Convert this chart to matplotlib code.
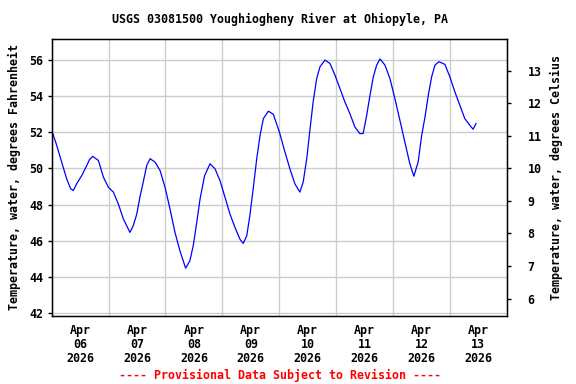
import matplotlib
matplotlib.use("Agg")
import matplotlib.pyplot as plt

# heures depuis le 6 avril 2026 00:00, température en °F
heures = [0, 2.1, 4.2, 6.3, 8.0, 9.1, 10.5, 12.7, 14.8, 15.9, 17.3, 19.7, 21.8, 23.9,
          26.0, 28.1, 30.2, 33.0, 34.4, 35.9, 37.2, 38.6, 40.1, 41.5, 43.6, 45.7,
          47.8, 49.9, 52.0, 54.1, 56.5, 58.3, 59.7, 61.2, 62.6, 64.5, 66.8, 68.9,
          71.0, 73.1, 75.2, 77.3, 79.4, 80.8, 82.3, 83.6, 85.0, 86.5, 87.9, 89.3,
          91.4, 93.5, 96.1, 98.4, 100.5, 102.6, 104.7, 106.1, 107.6, 109.0, 110.3,
          111.8, 113.2, 115.3, 117.4, 119.5, 121.6, 123.7, 125.8, 127.9, 130.0,
          131.4, 132.9, 134.3, 135.7, 137.1, 138.5, 140.6, 142.7, 144.8, 146.9,
          149.0, 151.1, 152.8, 154.6, 156.1, 157.5, 158.9, 160.3, 161.7, 163.4,
          165.9, 168.0, 170.1, 172.2, 174.3, 176.4, 177.8, 179.0]
temp_f = [52.11, 51.28, 50.35, 49.43, 48.87, 48.78, 49.15, 49.61, 50.17, 50.48, 50.67,
          50.44, 49.52, 48.96, 48.69, 48.04, 47.21, 46.46, 46.83, 47.48, 48.41, 49.24,
          50.17, 50.54, 50.35, 49.89, 48.96, 47.76, 46.46, 45.44, 44.48, 44.89, 45.72,
          47.02, 48.32, 49.6, 50.26, 49.98, 49.33, 48.41, 47.48, 46.74, 46.09, 45.85,
          46.28, 47.39, 48.87, 50.54, 51.83, 52.76, 53.17, 53.0, 52.0, 50.91, 49.98,
          49.15, 48.69, 49.24, 50.54, 52.2, 53.68, 54.98, 55.63, 56.0, 55.81, 55.17,
          54.43, 53.68, 53.04, 52.30, 51.93, 51.93, 52.94, 54.06, 55.07, 55.72, 56.06,
          55.72, 54.98, 53.87, 52.67, 51.46, 50.26, 49.57, 50.35, 51.83, 52.85, 54.06,
          55.07, 55.72, 55.91, 55.76, 55.07, 54.24, 53.5, 52.76, 52.39, 52.17, 52.48]

jours = ["06", "07", "08", "09", "10", "11", "12", "13"]
f_ticks = [42, 44, 46, 48, 50, 52, 54, 56]
c_ticks = [6, 7, 8, 9, 10, 11, 12, 13]

police = "DejaVu Sans Mono"
taille = 8.4
plt.rcParams["font.family"] = police
plt.rcParams["font.weight"] = "bold"

fig = plt.figure(figsize=(5.76, 3.84), dpi=100)
ax = fig.add_axes([0.0898, 0.1779, 0.79, 0.7198])

ax.plot(heures, temp_f, color="blue", linewidth=0.9)

ymin, ymax = 41.85, 57.15
ax.set_xlim(0, 192)
ax.set_ylim(ymin, ymax)

# grille aux minuits, étiquettes à midi
ax.set_xticks([24 * i for i in range(9)])
ax.set_xticklabels([])
ax.set_xticks([24 * i + 12 for i in range(8)], minor=True)
ax.set_xticklabels([f"Apr\n{j}\n2026" for j in jours], minor=True, fontsize=taille,
                   fontweight="bold", linespacing=1.1)
ax.tick_params(axis="x", which="both", length=0, pad=6)
ax.set_yticks(f_ticks)
ax.set_yticklabels([str(v) for v in f_ticks], fontsize=taille, fontweight="bold")
ax.tick_params(axis="y", length=3, width=1, direction="out", pad=3)
ax.grid(True, which="major", color="#cccccc", linewidth=1)
ax.set_axisbelow(True)
for s in ax.spines.values():
    s.set_linewidth(1)
ax.set_ylabel("Temperature, water, degrees Fahrenheit", fontsize=taille, fontweight="bold",
              labelpad=6)

ax2 = ax.twinx()
ax2.set_ylim((ymin - 32) * 5 / 9, (ymax - 32) * 5 / 9)
ax2.set_yticks(c_ticks)
ax2.set_yticklabels([str(v) for v in c_ticks], fontsize=taille, fontweight="bold")
ax2.tick_params(axis="y", length=3, width=1, direction="out", pad=12)
ax2.set_ylabel("Temperature, water, degrees Celsius", fontsize=taille, fontweight="bold",
               labelpad=6)

fig.text(0.486, 0.950, "USGS 03081500 Youghiogheny River at Ohiopyle, PA",
         ha="center", va="center", fontsize=taille, fontweight="bold")
fig.text(0.486, 0.022, "---- Provisional Data Subject to Revision ----",
         ha="center", va="center", fontsize=taille, fontweight="bold", color="red")

fig.savefig("out.png", dpi=100)
